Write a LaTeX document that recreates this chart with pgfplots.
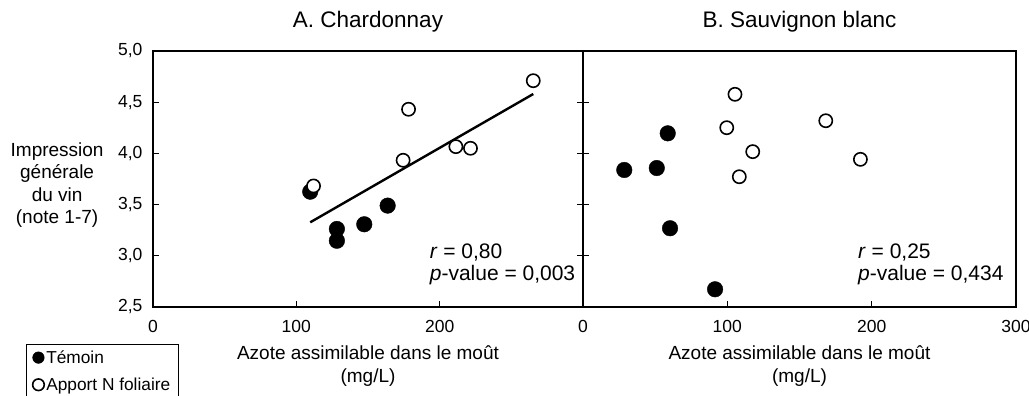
\documentclass[border=0pt]{standalone}
\usepackage{fontspec}
\setmainfont{Liberation Sans}
\usepackage{pgfplots}
\pgfplotsset{compat=1.18}
\newcommand{\ticksize}{\fontsize{17.5}{20}\selectfont}
\newcommand{\labsize}{\fontsize{19}{22.5}\selectfont}
\newcommand{\titsize}{\fontsize{22.5}{26}\selectfont}
\newcommand{\annsize}{\fontsize{21}{24}\selectfont}
\newcommand{\legsize}{\fontsize{17.3}{20}\selectfont}
\pgfplotsset{
  panel/.style={
    scale only axis, height=256pt,
    ymin=2.5, ymax=5.0, xmin=0, xmax=300,
    ytick={2.5,3.0,3.5,4.0,4.5,5.0},
    tick align=inside, major tick length=6pt,
    xtick pos=bottom,
    axis line style={line width=1.4pt},
    every tick/.style={black, line width=1.2pt},
    /pgf/number format/assume math mode=true,
    tick label style={font=\ticksize},
    xticklabel style={yshift=-10pt},
    label style={font=\labsize},
    title style={font=\titsize, at={(axis description cs:0.5,1.0703)}, anchor=base, inner sep=0pt},
    every axis x label/.style={at={(axis description cs:0.5,-0.152)}, anchor=north, align=center, inner sep=0pt, font=\labsize},
  },
  filled/.style={only marks, mark=*, mark size=7.8pt, mark options={fill=black, draw=black, line width=0.4pt}},
  open/.style={only marks, mark=*, mark size=6.6pt, mark options={fill=white, draw=black, line width=1.6pt}},
}
\begin{document}
\begin{tikzpicture}[x=1pt,y=1pt]
\useasboundingbox (0,0) rectangle (1029,396);
\begin{axis}[panel,
  at={(153pt,89pt)}, anchor=south west, width=430pt,
  xtick={0,100,200},
  ytick pos=both, yticklabel pos=left,
  yticklabel style={xshift=-7pt, /pgf/number format/.cd, fixed, fixed zerofill, precision=1, use comma},
  title={A. Chardonnay},
  xlabel={Azote assimilable dans le moût\\(mg/L)},
  ylabel={Impression\\générale\\du vin\\(note 1-7)},
  every axis y label/.style={at={(axis description cs:-0.223,0.477)}, anchor=center, align=center, font=\labsize},
  legend style={at={(axis description cs:-0.295,-0.1445)}, anchor=north west, draw=black, line width=1pt, font=\legsize, inner xsep=6pt, inner ysep=4pt, row sep=9pt},
  legend cell align=left,
  legend image code/.code={\draw[#1, mark size=5.8pt] plot coordinates {(0pt,0pt)};},
]
\addplot[filled] coordinates {(109.7,3.626) (128.3,3.262) (128.3,3.147) (147.4,3.308) (163.7,3.490)};
\addlegendentry{Témoin}
\addplot[open] coordinates {(112.0,3.682) (178.3,4.431) (174.5,3.933) (211.3,4.066) (221.5,4.050) (265.3,4.710)};
\addlegendentry{Apport N foliaire}
\addplot[no marks, line width=2.4pt, forget plot] coordinates {(109.7,3.327) (265.3,4.580)};
\node[anchor=base west, font=\annsize, inner sep=0pt] at (axis cs:193,2.978) {\textit{r} = 0,80};
\node[anchor=base west, font=\annsize, inner sep=0pt] at (axis cs:193,2.754) {\textit{p}-value = 0,003};
\end{axis}
\begin{axis}[panel,
  at={(583pt,89pt)}, anchor=south west, width=433pt,
  xtick={0,100,200,300},
  ytick pos=left, yticklabels={},
  title={B. Sauvignon blanc},
  xlabel={Azote assimilable dans le moût\\(mg/L)},
]
\addplot[filled] coordinates {(28.6,3.838) (51.1,3.857) (58.7,4.196) (60.3,3.269) (91.5,2.673)};
\addplot[open] coordinates {(105.3,4.577) (99.6,4.251) (117.6,4.017) (108.3,3.772) (168.2,4.319) (192.2,3.942)};
\node[anchor=base west, font=\annsize, inner sep=0pt] at (axis cs:190.5,2.978) {\textit{r} = 0,25};
\node[anchor=base west, font=\annsize, inner sep=0pt] at (axis cs:190.5,2.754) {\textit{p}-value = 0,434};
\end{axis}
\end{tikzpicture}
\end{document}
